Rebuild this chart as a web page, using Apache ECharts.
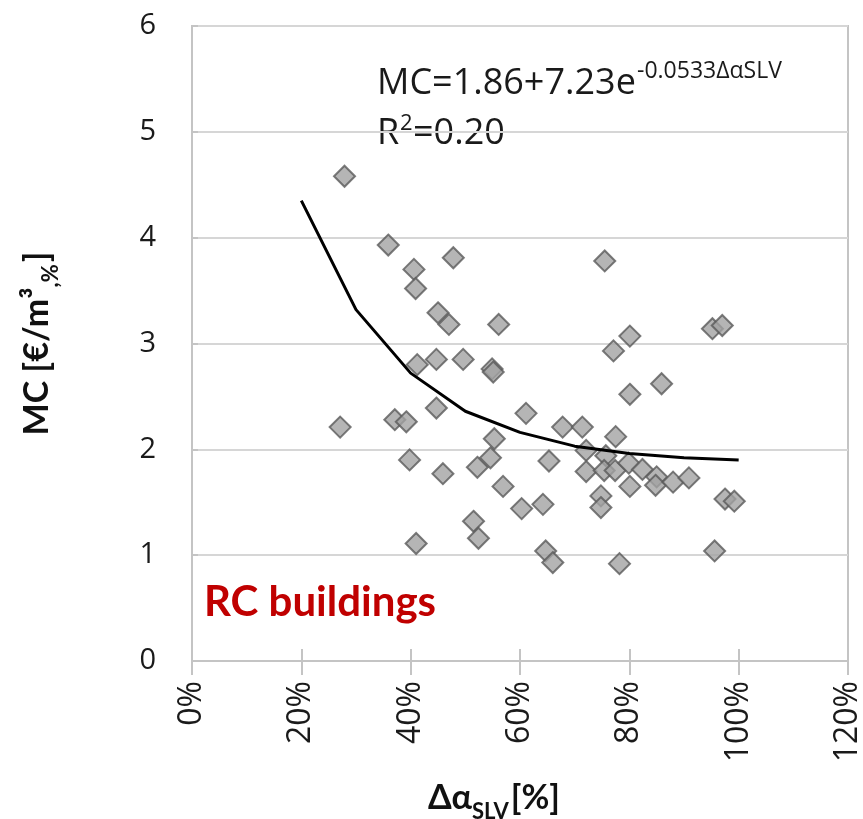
<!DOCTYPE html>
<html>
<head>
<meta charset="utf-8">
<script src="https://cdn.jsdelivr.net/npm/echarts@6/dist/echarts.min.js"></script>
<style>
  html, body { margin: 0; padding: 0; background: #fff; }
  #main { width: 863px; height: 819px; }
</style>
</head>
<body>
<div id="main"></div>
<script>
// data: Δα_SLV [%] and MC [€/m³,%]
var alphaSLV = [27.9, 35.9, 47.8, 40.6, 40.9, 45.0, 47.0, 41.2, 44.7, 49.6,
                44.7, 27.1, 37.1, 39.2, 39.8, 45.9, 52.2, 51.5, 52.4, 41.0,
                75.5, 56.1, 95.2, 97.0, 80.1, 77.1, 54.9, 55.1, 85.9, 80.1,
                61.1, 55.3, 67.8, 71.4, 77.5, 54.6, 65.3, 72.1, 72.1, 75.7,
                75.4, 77.4, 79.9, 80.1, 82.4, 85.0, 84.8, 88.0, 90.9, 56.9,
                60.3, 64.2, 74.8, 74.8, 97.5, 99.2, 64.7, 66.0, 78.2, 95.6];
var mcValues = [4.58, 3.93, 3.81, 3.70, 3.52, 3.29, 3.18, 2.80, 2.85, 2.85,
                2.39, 2.21, 2.28, 2.26, 1.90, 1.77, 1.83, 1.32, 1.16, 1.11,
                3.78, 3.18, 3.14, 3.17, 3.07, 2.93, 2.76, 2.73, 2.62, 2.52,
                2.34, 2.10, 2.21, 2.21, 2.12, 1.92, 1.89, 1.99, 1.79, 1.94,
                1.80, 1.80, 1.87, 1.65, 1.81, 1.74, 1.66, 1.69, 1.73, 1.65,
                1.44, 1.48, 1.56, 1.45, 1.53, 1.51, 1.04, 0.93, 0.92, 1.04];

// fitted curve points as drawn (every 10%)
var fitX = [20, 30, 40, 50, 60, 70, 80, 90, 100];
var fitY = [4.35, 3.32, 2.72, 2.36, 2.16, 2.03, 1.96, 1.92, 1.90];

var xTicks = ['0%', '20%', '40%', '60%', '80%', '100%', '120%'];
var yTicks = ['0', '1', '2', '3', '4', '5', '6'];

var chart = echarts.init(document.getElementById('main'));

var scatterData = [];
for (var i = 0; i < alphaSLV.length; i++) {
  scatterData.push([alphaSLV[i], mcValues[i]]);
}
var fitData = [];
for (var j = 0; j < fitX.length; j++) {
  fitData.push([fitX[j], fitY[j]]);
}

var axisGray = '#c4c4c4';

// rich styles for axis names (bold text + lowered subscript)
var nameRich = {
  b: { fontFamily: 'Lato', fontWeight: 'bold', fontSize: 34, color: '#111', lineHeight: 50 },
  s: { fontFamily: 'Lato', fontWeight: 'bold', fontSize: 22, color: '#111', lineHeight: 50, verticalAlign: 'bottom', padding: [0, 2, 0, 0] }
};

var option = {
  backgroundColor: '#fff',
  animation: false,
  grid: {
    left: 192, right: 15, top: 26, bottom: 158,
    outerBoundsMode: 'none',
    show: true, borderColor: axisGray, borderWidth: 2
  },
  xAxis: [{
    type: 'value', min: 0, max: 120, interval: 20,
    position: 'bottom',
    name: '{b|Δα}{s|SLV}{b|[%]}',
    nameLocation: 'middle', nameGap: 112,
    nameTextStyle: { padding: [0, 52, 0, 0], rich: nameRich },
    axisLine: { show: true, lineStyle: { color: axisGray, width: 2 } },
    axisTick: { show: true, length: 14, lineStyle: { color: axisGray, width: 2 } },
    splitLine: { show: false },
    axisLabel: {
      rotate: 90, margin: 20,
      fontFamily: 'Open Sans', fontSize: 32, color: '#1a1a1a',
      formatter: function (v) { return xTicks[v / 20]; }
    }
  }, {
    type: 'value', min: 0, max: 120, interval: 20,
    position: 'bottom',
    axisLine: { show: false },
    axisTick: { show: true, inside: true, length: 12, lineStyle: { color: axisGray, width: 2 } },
    axisLabel: { show: false },
    splitLine: { show: false }
  }],
  yAxis: {
    type: 'value', min: 0, max: 6, interval: 1,
    name: '{b|MC [€/m³}{s|,%}{b|]}',
    nameLocation: 'middle', nameGap: 130, nameRotate: 90,
    nameTextStyle: { rich: nameRich },
    axisLine: { show: true, lineStyle: { color: axisGray, width: 2 } },
    axisTick: { show: true, inside: true, length: 6, lineStyle: { color: axisGray, width: 2 } },
    splitLine: { show: true, lineStyle: { color: '#d6d6d6', width: 2 } },
    axisLabel: {
      margin: 36,
      fontFamily: 'Open Sans', fontSize: 29, color: '#1a1a1a',
      formatter: function (v) { return yTicks[v]; }
    }
  },
  series: [{
    name: 'MC',
    type: 'scatter',
    data: scatterData,
    symbol: 'diamond',
    symbolSize: 21,
    itemStyle: { color: '#a3a3a3', borderColor: '#5a5a5a', borderWidth: 2 },
    z: 3
  }, {
    name: 'fit',
    type: 'line',
    data: fitData,
    showSymbol: false,
    smooth: false,
    lineStyle: { color: '#000', width: 3 },
    z: 4
  }],
  graphic: [{
    type: 'text', left: 377, top: 66,
    style: { text: 'MC=1.86+7.23e', font: '36px "Open Sans"', fill: '#1a1a1a' }
  }, {
    type: 'text', left: 637, top: 60,
    style: { text: '-0.0533ΔαSLV', font: '23px "Open Sans"', fill: '#1a1a1a' }
  }, {
    type: 'text', left: 377, top: 116,
    style: { text: 'R', font: '36px "Open Sans"', fill: '#1a1a1a' }
  }, {
    type: 'text', left: 400, top: 113,
    style: { text: '2', font: '22px "Open Sans"', fill: '#1a1a1a' }
  }, {
    type: 'text', left: 413, top: 116,
    style: { text: '=0.20', font: '36px "Open Sans"', fill: '#1a1a1a' }
  }, {
    type: 'text', left: 204, top: 581,
    style: { text: 'RC buildings', font: 'bold 42px Lato', fill: '#c00000' }
  }]
};

chart.setOption(option);
</script>
</body>
</html>
